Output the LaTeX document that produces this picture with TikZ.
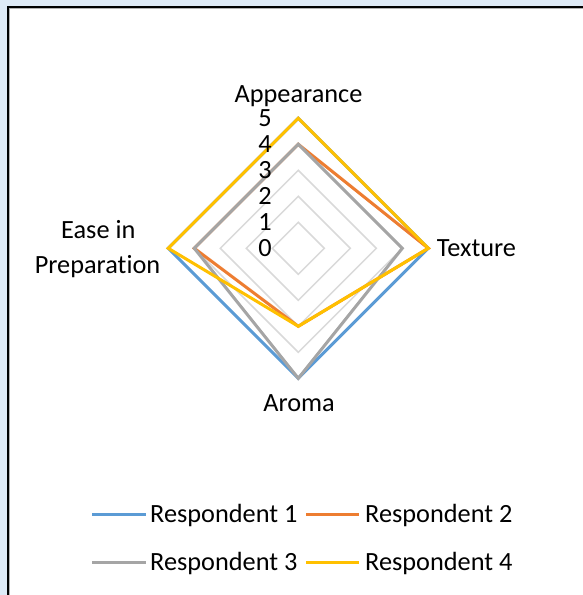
\documentclass[tikz,border=0pt]{standalone}
\usepackage{fontspec}
\setmainfont{Carlito}[Ligatures={NoCommon}]
\definecolor{paneblue}{HTML}{DEEAF6}
\definecolor{gridgray}{HTML}{D9D9D9}
\definecolor{sblue}{HTML}{5B9BD5}
\definecolor{sorange}{HTML}{ED7D31}
\definecolor{sgray}{HTML}{A5A5A5}
\definecolor{syellow}{HTML}{FFC000}

% radar polygon: style, Appearance, Texture, Aroma, Ease in Preparation
\newcommand\radarseries[5]{%
  \draw[series,#1] (\cx,{\cy-#2*\unit}) -- ({\cx+#3*\unit},\cy)
    -- (\cx,{\cy+#4*\unit}) -- ({\cx-#5*\unit},\cy) -- cycle;}

\begin{document}
\begin{tikzpicture}[x=1pt,y=-1pt,
  lbl/.style={font=\fontsize{26.3}{31}\selectfont, inner sep=0pt},
  gridring/.style={draw=gridgray, line width=1.5pt},
  series/.style={line width=3pt, line join=miter},
  legline/.style={line width=3pt},
  s1/.style={draw=sblue}, s2/.style={draw=sorange},
  s3/.style={draw=sgray}, s4/.style={draw=syellow}]
\useasboundingbox (0,0) rectangle (583,595);

% chart area frame
\fill[paneblue] (0,0) rectangle (583,595);
\filldraw[fill=white, draw=black, line width=2.6pt] (8,7) rectangle (640,650);
\draw[gray!60, line width=0.8pt] (9.8,8.8) rectangle (640,650);

\def\cx{298.3}
\def\cy{248.3}
\def\unit{26}
\coordinate (center) at (\cx,\cy);

% value rings
\foreach \k in {1,...,5}
  \draw[gridring] (\cx,{\cy-\k*\unit}) -- ({\cx+\k*\unit},\cy)
    -- (\cx,{\cy+\k*\unit}) -- ({\cx-\k*\unit},\cy) -- cycle;

% data series
\radarseries{s1}{5}{5}{5}{5}
\radarseries{s2}{4}{5}{3}{4}
\radarseries{s3}{4}{4}{5}{4}
\radarseries{s4}{5}{5}{3}{5}

% scale labels
\foreach \k in {0,...,5}
  \node[lbl, anchor=base east] (tick\k) at (272,{\cy-\k*\unit+8.3}) {\k};

% category labels
\node[lbl, anchor=base] (appearance) at (298.5,102.3) {Appearance};
\node[lbl, anchor=base west] (texture) at (436.7,256) {Texture};
\node[lbl, anchor=base] (aroma) at (299,411.7) {Aroma};
\node[lbl, anchor=base] (easeA) at (98.3,238.3) {Ease in};
\node[lbl, anchor=base] (easeB) at (97.5,273.3) {Preparation};

% legend
\coordinate (k1a) at (92.3,514.3);  \coordinate (k1b) at (145.7,514.3);
\coordinate (k2a) at (306,514.3);   \coordinate (k2b) at (359.3,514.3);
\coordinate (k3a) at (92.3,562.3);  \coordinate (k3b) at (145.7,562.3);
\coordinate (k4a) at (306,562.3);   \coordinate (k4b) at (359.3,562.3);
\draw[legline,s1] (k1a) -- (k1b);
\draw[legline,s2] (k2a) -- (k2b);
\draw[legline,s3] (k3a) -- (k3b);
\draw[legline,s4] (k4a) -- (k4b);
\node[lbl, anchor=base west] (leg1) at (150,522.7) {Respondent 1};
\node[lbl, anchor=base west] (leg2) at (365,522.7) {Respondent 2};
\node[lbl, anchor=base west] (leg3) at (150,570.7) {Respondent 3};
\node[lbl, anchor=base west] (leg4) at (365,570.7) {Respondent 4};
\end{tikzpicture}
\end{document}
